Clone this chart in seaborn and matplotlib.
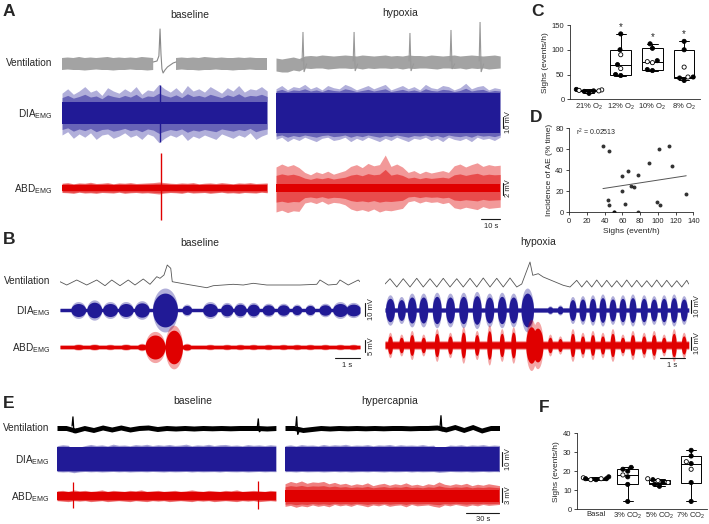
import numpy as np
import pandas as pd
import matplotlib
matplotlib.use("Agg")
import matplotlib.pyplot as plt
import seaborn as sns

NA = np.nan
# ======================= DATA =======================
# ---------- Panel A (ventilation a.u.; EMG in mV; time in s) ----------
a_base_dur = 108.0
a_hyp_dur = 118.0

vent_a_base_hi = [6.0, 6.5, 6.0, 7.0, 6.0, 6.5, 6.0, 6.5, 7.0, 6.0, 6.5, 6.0, 6.5, 6.0, 7.0, 6.5, 6.0,
                  NA, NA, NA,
                  6.0, 6.5, 6.0, 6.5, 6.0, 7.0, 6.5, 6.0, 6.5, 6.0, 6.0, 6.5, 6.0, 6.5, 6.0, 6.0, 6.0]
vent_a_base_lo = [6.0, 5.5, 6.0, 6.0, 6.5, 6.0, 5.5, 6.0, 6.0, 6.5, 6.0, 6.0, 5.5, 6.0, 6.0, 6.5, 6.0,
                  NA, NA, NA,
                  6.0, 5.5, 6.0, 6.0, 6.5, 6.0, 6.0, 5.5, 6.0, 6.0, 6.5, 6.0, 6.0, 5.5, 6.0, 6.0, 6.0]
vent_a_base_sigh_t = [48.0, 50.0, 51.0, 51.6, 52.1, 52.6, 53.2, 54.2, 55.5, 57.0, 58.5, 60.0]
vent_a_base_sigh_v = [2, 3, 8, 35, 10, -5, -9, -6, -3, -1, 1, 2]

vent_a_hyp_hi = [5, 4, 5, 6, 4.5, 7, 7.5, 7, 8, 7.5, 7, 7.5, 8, 7.5, 7, 8, 7.5, 7, 7.5, 8,
                 7, 7.5, 7, 8, 7.5, 7.5, 7, 8, 7.5, 7, 7.5, 8, 7, 7.5, 8, 7.5, 7, 7.5, 8, 7]
vent_a_hyp_lo = [8, 9, 9, 7, 8, 5, 5.5, 5, 5, 6, 5.5, 5, 5, 5.5, 5, 6, 5, 5.5, 5, 5,
                 5.5, 5, 6, 5, 5.5, 5, 5, 5.5, 6, 5, 5, 5.5, 5, 6, 5, 5.5, 5, 6, 5.5, 5]
vent_a_hyp_sigh_t = [14.2, 41.1, 70.5, 92.1, 107.4]
vent_a_hyp_sigh_top = [31, 31, 30, 33, 41]
vent_a_hyp_sigh_dip = [-9, -8, -8, -6, -9]

dia_a_base_core = 10.0
dia_a_base_hi = [18, 22, 17, 20, 24, 19, 21, 16, 23, 20, 18, 22, 19, 24, 17, 21, 20, 26, 22, 19,
                 23, 18, 25, 20, 22, 19, 24, 21, 18, 23, 20, 25, 19, 22, 21, 24, 20]
dia_a_base_lo = [20, 17, 23, 19, 22, 18, 24, 20, 19, 23, 21, 18, 22, 20, 24, 19, 21, 27, 23, 20,
                 22, 19, 25, 21, 23, 20, 22, 24, 19, 21, 23, 20, 22, 18, 24, 21, 19]
dia_a_base_sigh = (51.6, 25.5, 26.5)      # time, up, down (mV)

dia_a_hyp_core = 18.0
dia_a_hyp_hi = [22, 25, 21, 24, 23, 26, 22, 24, 21, 25, 23, 22, 26, 24, 21, 23, 25, 22, 24, 26,
                21, 23, 25, 22, 24, 21, 26, 23, 22, 25, 24, 21, 23, 27, 22, 24, 25, 21, 23, 22]
dia_a_hyp_lo = [24, 22, 26, 23, 25, 22, 24, 26, 23, 22, 25, 24, 22, 26, 23, 25, 22, 24, 26, 23,
                25, 22, 24, 26, 23, 24, 22, 25, 23, 26, 22, 24, 25, 23, 26, 22, 24, 23, 25, 22]

abd_a_base_core = 0.55
abd_a_base_hi = [0.8, 0.9, 0.7, 0.85, 0.8, 0.95, 0.75, 0.8, 0.9, 0.7, 0.85, 0.8, 0.9, 0.75, 0.8, 0.85, 0.9, 1.0, 0.9, 0.8,
                 0.75, 0.85, 0.8, 0.9, 0.7, 0.8, 0.85, 0.75, 0.9, 0.8, 0.7, 0.85, 0.8, 0.9, 0.75, 0.8, 0.85]
abd_a_base_lo = [0.75, 0.8, 0.9, 0.7, 0.85, 0.8, 0.9, 0.75, 0.8, 0.85, 0.7, 0.9, 0.8, 0.75, 0.85, 0.8, 0.9, 1.0, 0.85, 0.75,
                 0.8, 0.9, 0.7, 0.85, 0.8, 0.75, 0.9, 0.8, 0.7, 0.85, 0.8, 0.9, 0.75, 0.8, 0.85, 0.7, 0.8]
abd_a_base_sigh = (52.1, 5.8, 5.3)

abd_a_hyp_core = 0.7
abd_a_hyp_hi = [3.5, 4.0, 3.6, 3.9, 3.4, 2.6, 2.2, 2.7, 2.4, 2.8, 2.3, 2.6, 2.9, 3.6, 3.9, 3.4, 4.1, 3.7, 3.9, 5.5,
                3.6, 4.0, 3.5, 2.6, 2.9, 2.4, 2.8, 2.5, 2.7, 2.9, 2.6, 3.7, 4.0, 3.5, 3.9, 4.2, 3.6, 3.9, 3.7, 3.8]
abd_a_hyp_lo = [4.0, 3.7, 4.1, 3.8, 3.9, 2.5, 2.3, 2.6, 2.2, 2.7, 2.4, 2.5, 2.8, 3.5, 3.8, 3.6, 3.9, 3.5, 4.0, 3.7,
                3.8, 3.6, 3.4, 2.3, 2.1, 2.5, 2.2, 2.4, 2.3, 2.6, 2.4, 3.3, 3.5, 3.2, 3.4, 3.6, 3.1, 3.4, 3.3, 3.2]

# ---------- Panel B (12 s excerpts) ----------
b_base_dur = 12.0
b_hyp_dur = 12.15

vent_b_base_t = [0.0, 0.27, 0.67, 1.07, 1.47, 1.8, 2.07, 2.4, 2.73, 3.0, 3.33, 3.6, 3.87, 4.0, 4.16, 4.29,
                 4.43, 4.49, 5.07, 5.87, 6.13, 6.93, 7.33, 7.73, 8.27, 9.6, 10.27, 10.4, 10.73, 11.07,
                 11.2, 11.53, 11.93, 12.0]
vent_b_base_v = [3.3, 0, 5, 0, 5, -0.7, 5, -0.7, 5, 0, 6, 0.7, 8.3, 6.7, 10, 20,
                 16.7, 3.3, 0.7, -2.7, -0.7, 0.7, 0, 1.7, 0, 0, 0.7, 5, 0, 0.7,
                 5, 0, 5, 3.3]
vent_b_hyp_t = [0.0, 0.2, 0.47, 0.73, 1.0, 1.27, 1.53, 1.8, 2.07, 2.33, 2.6, 2.87, 3.13, 3.4, 3.67,
                3.93, 4.2, 4.47, 4.73, 5.0, 5.27, 5.47, 5.8, 5.91, 6.13, 6.33, 7.13, 7.4, 7.67, 7.87,
                8.07, 8.27, 8.47, 8.67, 8.87, 9.07, 9.27, 9.47, 9.67, 9.87, 10.07, 10.27, 10.47, 10.67,
                10.87, 11.07, 11.27, 11.47, 11.67, 11.87, 12.07, 12.15]
vent_b_hyp_v = [3, 8.3, 0, 8.3, 0, 8.7, 0, 8.3, 0, 8.7, 0, 8.3, 0, 8.7, 0,
                9, 0, 8.7, 0, 9, 0, 3, 25, 11.7, 13.3, 10, 1.7, 0, 6.7, 0,
                6.3, 0, 7, 0, 6.7, 0, 6.3, 0, 7, 0, 6.7, 0, 6.3, 0,
                7, 0, 6.7, 0, 6.3, 0, 6.7, 3]

dia_b_base_line = 1.2
dia_b_base_burst_t = [0.73, 1.37, 2.0, 2.63, 3.27, 4.2, 5.07, 6.0, 6.67, 7.2, 7.73, 8.33, 8.93, 9.47, 10.0, 10.6, 11.2, 11.73]
dia_b_base_burst_a = [5, 6, 5, 5, 5.5, 13, 3.5, 5, 4.5, 4.5, 4.5, 4, 4, 3.5, 3.5, 4, 5, 4.5]
dia_b_base_burst_w = [0.3, 0.3, 0.3, 0.3, 0.3, 0.5, 0.2, 0.3, 0.25, 0.25, 0.25, 0.25, 0.25, 0.2, 0.2, 0.25, 0.3, 0.3]

abd_b_base_line = 0.7
abd_b_base_burst_t = [0.73, 1.37, 2.0, 2.63, 3.27, 3.8, 4.55, 5.07, 6.0, 6.67, 7.2, 7.73, 8.33, 8.93, 9.47, 10.0, 10.6, 11.2, 11.73]
abd_b_base_burst_a = [1.0, 1.0, 0.9, 1.0, 1.2, 5, 7, 1.2, 0.9, 0.9, 0.9, 0.9, 0.9, 0.9, 0.9, 0.9, 0.9, 0.9, 0.9]
abd_b_base_burst_w = [0.25, 0.25, 0.25, 0.25, 0.2, 0.4, 0.35, 0.2, 0.25, 0.25, 0.25, 0.25, 0.25, 0.25, 0.25, 0.25, 0.25, 0.25, 0.25]

dia_b_hyp_line = 1.5
dia_b_hyp_burst_t = [0.2, 0.65, 1.07, 1.53, 2.07, 2.6, 3.13, 3.67, 4.17, 4.67, 5.13, 5.69, 6.6, 7.0,
                     7.5, 7.9, 8.3, 8.7, 9.1, 9.5, 9.9, 10.35, 10.75, 11.15, 11.55, 11.95]
dia_b_hyp_burst_a = [9, 8, 10, 10, 10.5, 10, 10.5, 11, 10, 10.5, 10, 13, 2.5, 3,
                     8, 8.5, 9, 9.5, 8.5, 9, 9.5, 9, 8.5, 9, 9.5, 8.5]
dia_b_hyp_burst_w = [0.18, 0.16, 0.18, 0.18, 0.18, 0.18, 0.18, 0.18, 0.18, 0.18, 0.18, 0.25, 0.12, 0.12,
                     0.14, 0.14, 0.14, 0.14, 0.14, 0.14, 0.14, 0.14, 0.14, 0.14, 0.14, 0.14]

abd_b_hyp_line = 2.5
abd_b_hyp_burst_t = [0.2, 0.65, 1.07, 1.53, 2.07, 2.6, 3.13, 3.67, 4.17, 4.67, 5.13, 5.85, 6.1,
                     6.6, 7.0, 7.5, 7.9, 8.3, 8.7, 9.1, 9.5, 9.9, 10.35, 10.75, 11.15, 11.55, 11.95]
abd_b_hyp_burst_a = [7, 6, 8, 6, 9, 7, 10, 8, 11, 9, 10, 14, 13,
                     6, 5, 9, 7, 8, 7, 9, 6, 8, 7, 8, 6, 9, 7]
abd_b_hyp_burst_w = [0.1, 0.1, 0.1, 0.1, 0.1, 0.1, 0.1, 0.1, 0.1, 0.1, 0.1, 0.22, 0.22,
                     0.1, 0.1, 0.1, 0.1, 0.1, 0.1, 0.1, 0.1, 0.1, 0.1, 0.1, 0.1, 0.1, 0.1]

# ---------- Panel E (hypercapnia, ~3.3 min) ----------
e_base_dur = 199.0
e_hyp_dur = 195.0
vent_e_tidal = 2.5
vent_e_base_c = [0, 0, -2.5, 0, -2, 0.5, -1.5, 0.5, -1.5, 0, 0.5, -1, 0, -0.5, 0, -0.5, 0, -0.3, 0, -0.3, 0, 0, 0, -0.5, 0]
vent_e_hyp_c = [0, 0, -2, -1, 0, -0.5, 0, -0.3, 0, -0.3, 0, -0.3, 0, 0, -0.3, 0, 0, 0.5, -1.5, 1, -2, 1, -2.5, 0, 0]
vent_e_base_sigh_t = [14.5, 183.0]
vent_e_base_sigh_top = [11.5, 9.5]
vent_e_base_sigh_dip = [-5, -4]
vent_e_hyp_sigh_t = [10.6, 141.8]
vent_e_hyp_sigh_top = [11.7, 12.7]
vent_e_hyp_sigh_dip = [-6.7, -3]

dia_e_base_core = 8.3
dia_e_base_hi = [9.5, 10.2, 9.8, 6.0, 8.5, 9.6, 10.4, 9.7, 10.1, 9.4, 10.6, 9.8, 10.0, 9.5, 10.3, 9.9, 10.5, 9.6, 10.2, 9.8,
                 10.4, 9.7, 10.0, 10.6, 9.5, 10.1, 9.8, 10.5, 9.6, 10.2, 10.4, 9.7, 10.0, 9.5, 10.3, 9.8, 10.1, 9.6, 10.2, 9.8]
dia_e_base_lo = [9.0, 9.3, 9.1, 9.8, 9.2, 8.9, 9.2, 9.0, 9.3, 9.1, 8.9, 9.2, 9.0, 9.3, 9.1, 9.0, 9.2, 8.9, 9.1, 9.3,
                 9.0, 9.2, 9.1, 8.9, 9.3, 9.0, 9.2, 9.1, 9.0, 9.3, 8.9, 9.1, 9.2, 9.0, 9.3, 9.1, 8.9, 9.2, 9.0, 9.1]
dia_e_hyp_core = 8.3
dia_e_hyp_hi = [9.6, 10.1, 9.4, 10.3, 9.8, 10.0, 9.5, 10.4, 9.7, 10.2, 9.9, 10.5, 9.6, 10.0, 9.8, 10.3, 9.5, 10.1, 9.9, 10.4,
                9.6, 10.2, 9.8, 10.0, 9.7, 10.3, 9.6, 9.9, 6.5, 8.8, 10.0, 9.7, 10.2, 9.5, 10.1, 9.8, 10.3, 9.6, 10.0, 9.7]
dia_e_hyp_lo = [9.1, 9.0, 9.3, 8.9, 9.2, 9.1, 9.0, 9.3, 9.1, 8.9, 9.2, 9.0, 9.3, 9.1, 9.0, 9.2, 8.9, 9.1, 9.3, 9.0,
                9.2, 9.1, 8.9, 9.3, 9.0, 9.2, 9.1, 9.0, 9.6, 9.3, 8.9, 9.1, 9.2, 9.0, 9.3, 9.1, 8.9, 9.2, 9.0, 9.1]

abd_e_base_core = 0.85
abd_e_base_hi = [1.1, 1.2, 1.0, 1.3, 1.1, 1.2, 1.0, 1.1, 1.3, 1.0, 1.2, 1.1, 1.0, 1.2, 1.1, 1.3, 1.0, 1.1, 1.2, 1.0,
                 1.1, 1.2, 1.0, 1.1, 1.3, 1.1, 1.0, 1.2, 1.1, 1.0, 1.2, 1.1, 1.3, 1.0, 1.1, 1.2, 1.1, 1.0, 1.2, 1.1]
abd_e_base_lo = [1.0, 1.1, 1.2, 1.0, 1.1, 1.0, 1.2, 1.1, 1.0, 1.2, 1.1, 1.0, 1.1, 1.2, 1.0, 1.1, 1.2, 1.0, 1.1, 1.0,
                 1.2, 1.1, 1.0, 1.1, 1.2, 1.0, 1.1, 1.0, 1.2, 1.1, 1.0, 1.1, 1.2, 1.0, 1.1, 1.0, 1.2, 1.1, 1.0, 1.1]
abd_e_base_sigh_t = [14.5, 183.0]
abd_e_base_sigh_up = [3.0, 3.1]
abd_e_base_sigh_dn = [2.6, 2.8]

abd_e_hyp_core = 1.3
abd_e_hyp_hi = [2.6, 3.1, 2.8, 3.2, 2.7, 3.0, 2.9, 3.1, 2.6, 2.9, 2.5, 2.7, 2.3, 2.6, 2.4, 2.8, 2.2, 2.5, 2.7, 2.3,
                2.6, 2.4, 2.8, 2.3, 2.5, 2.2, 2.6, 2.4, 3.0, 2.5, 2.3, 2.6, 2.4, 2.7, 2.2, 2.5, 2.3, 2.6, 2.4, 2.2]
abd_e_hyp_lo = [2.2, 2.0, 2.4, 2.1, 2.3, 1.9, 2.2, 2.0, 2.3, 1.8, 2.1, 1.9, 2.2, 1.8, 2.0, 2.3, 1.9, 2.1, 1.8, 2.2,
                2.0, 1.9, 2.3, 1.8, 2.1, 2.0, 1.9, 2.2, 2.4, 1.9, 2.1, 1.8, 2.0, 2.2, 1.9, 2.1, 1.8, 2.0, 1.9, 1.8]

# ---------- Panel C: sighs (events/h) under hypoxia ----------
c_groups = ['21% O$_2$', '12% O$_2$', '10% O$_2$', '8% O$_2$']
c_21 = [20, 19, 18, 17, 17, 16, 12]
c_12 = [132, 100, 90, 70, 62, 50, 48]
c_10 = [112, 103, 78, 76, 74, 60, 58]
c_8 = [117, 100, 65, 45, 45, 43, 38]
c_21_open = [False, True, True, False, True, False, False]
c_12_open = [False, False, True, False, True, False, False]
c_10_open = [False, False, False, True, True, False, False]
c_8_open = [False, False, True, True, False, False, False]
c_signif = [False, True, True, True]

# ---------- Panel D: sighs vs incidence of AE ----------
d_sighs = [38, 45, 44, 45, 50, 51, 60, 60, 63, 66, 70, 73, 77, 78, 90, 99, 101, 102, 112, 116, 132]
d_ae = [63, 58, 12, 7, 0, 0, 35, 20, 8, 39, 25, 24, 0, 36, 47, 10, 60, 7, 63, 44, 17]
d_r2_text = 'r$^2$ = 0.02513'

# ---------- Panel F: sighs (events/h) under hypercapnia ----------
f_groups = ['Basal', '3% CO$_2$', '5% CO$_2$', '7% CO$_2$']
f_basal = [17, 16.5, 16, 16, 16, 15.5, 15.5]
f_3 = [22, 21, 20, 18, 17, 13, 4]
f_5 = [16, 15.5, 15, 14, 14, 13, 12]
f_7 = [31, 28, 25, 24, 21, 14, 4]
f_basal_open = [False, True, False, True, False, True, False]
f_3_open = [False, False, False, True, False, False, False]
f_5_open = [True, False, True, False, True, False, False]
f_7_open = [False, False, True, False, True, False, False]

# ======================= STYLE / LAYOUT =======================
sns.set_theme(style="ticks")
plt.rcParams['font.family'] = ['Liberation Sans', 'DejaVu Sans']
plt.rcParams['mathtext.fontset'] = 'custom'
plt.rcParams['mathtext.rm'] = 'Liberation Sans'
plt.rcParams['mathtext.it'] = 'Liberation Sans:italic'
plt.rcParams['mathtext.bf'] = 'Liberation Sans:bold'
plt.rcParams['axes.linewidth'] = 0.6

BLUE = '#211a96'
RED = '#e00000'
GRAY = '#a3a3a3'

W, H = 709, 524
fig = plt.figure(figsize=(W / 100, H / 100), dpi=100)
ov = fig.add_axes([0, 0, 1, 1])
ov.set_xlim(0, W)
ov.set_ylim(H, 0)
ov.axis('off')


def px_axes(x0, x1, y0, y1):
    return fig.add_axes([x0 / W, 1 - y1 / H, (x1 - x0) / W, (y1 - y0) / H])


def trace_ax(x0, yc, dur, px_per_s, px_per_unit, half=48):
    ax = px_axes(x0, x0 + dur * px_per_s, yc - half, yc + half)
    ax.set_xlim(0, dur)
    ax.set_ylim(-half / px_per_unit, half / px_per_unit)
    ax.axis('off')
    return ax


def dense_trace(ax, dur, hi, lo, core, color, light_alpha=0.35):
    hi = np.asarray(hi, float)
    lo = np.asarray(lo, float)
    t = np.linspace(0, dur, len(hi))
    ax.fill_between(t, -lo, hi, color=color, alpha=light_alpha, lw=0)
    ax.fill_between(t, -(lo + core) / 2, (hi + core) / 2, color=color, alpha=0.5, lw=0)
    ax.fill_between(t, -core, core, color=color, lw=0)


def burst_trace(ax, dur, times, amps, widths, base, color, halo=1.3):
    tt = np.linspace(0, dur, 3000)
    env = np.full_like(tt, base)
    for t0, a, w in zip(times, amps, widths):
        env = np.maximum(env, a * np.sqrt(np.clip(1 - ((tt - t0) / w) ** 2, 0, None)))
    ax.fill_between(tt, -env * halo, env * halo, color=color, lw=0, alpha=0.35)
    ax.fill_between(tt, -env, env, color=color, lw=0)


def vent_band(ax, dur, hi, lo, color):
    hi = np.asarray(hi, float)
    lo = np.asarray(lo, float)
    t = np.linspace(0, dur, len(hi))
    ax.fill_between(t, -lo, hi, color=color, lw=0)


def vent_spikes(ax, dur, times, tops, dips, color, lw=0.8):
    dt = dur / 250.0
    for t0, top, dip in zip(times, tops, dips):
        ax.plot([t0 - dt, t0, t0 + 1.2 * dt, t0 + 4 * dt], [2, top, dip, -1], color=color, lw=lw,
                solid_joinstyle='miter')


def vbar(ax, x, y0, y1, label, tx):
    ax.plot([x, x], [y0, y1], color='k', lw=0.8, clip_on=False)
    ax.text(tx, (y0 + y1) / 2, label, rotation=90, ha='center', va='center', fontsize=5.5, clip_on=False)


def hbar(ax, x0, x1, y, label, ty):
    ax.plot([x0, x1], [y, y], color='k', lw=0.8, clip_on=False)
    ax.text((x0 + x1) / 2, ty, label, ha='center', va='center', fontsize=5.5, clip_on=False)


# ---------------- Panel A traces ----------------
PPS_A = 1.9
ax = trace_ax(62, 64, a_base_dur, PPS_A, 1.0)
vent_band(ax, a_base_dur, vent_a_base_hi, vent_a_base_lo, GRAY)
ax.plot(vent_a_base_sigh_t, vent_a_base_sigh_v, color='#888888', lw=0.8)
ax = trace_ax(276, 63, a_hyp_dur, PPS_A, 1.0)
vent_band(ax, a_hyp_dur, vent_a_hyp_hi, vent_a_hyp_lo, GRAY)
vent_spikes(ax, a_hyp_dur, vent_a_hyp_sigh_t, vent_a_hyp_sigh_top, vent_a_hyp_sigh_dip, '#999999')

ax = trace_ax(62, 113, a_base_dur, PPS_A, 1.1)
dense_trace(ax, a_base_dur, dia_a_base_hi, dia_a_base_lo, dia_a_base_core, BLUE)
ax.vlines(dia_a_base_sigh[0], -dia_a_base_sigh[2], dia_a_base_sigh[1], color=BLUE, lw=1.0)
ax = trace_ax(276, 113, a_hyp_dur, PPS_A, 1.1)
dense_trace(ax, a_hyp_dur, dia_a_hyp_hi, dia_a_hyp_lo, dia_a_hyp_core, BLUE)
vbar(ax, a_hyp_dur + 1.6, -13.6, -3.6, '10 mV', a_hyp_dur + 4.6)

ax = trace_ax(62, 188, a_base_dur, PPS_A, 6.0)
dense_trace(ax, a_base_dur, abd_a_base_hi, abd_a_base_lo, abd_a_base_core, RED, 0.5)
ax.vlines(abd_a_base_sigh[0], -abd_a_base_sigh[2], abd_a_base_sigh[1], color=RED, lw=1.0)
ax = trace_ax(276, 188, a_hyp_dur, PPS_A, 6.0)
dense_trace(ax, a_hyp_dur, abd_a_hyp_hi, abd_a_hyp_lo, abd_a_hyp_core, RED, 0.4)
vbar(ax, a_hyp_dur + 1.6, -1.1, 0.9, '2 mV', a_hyp_dur + 4.6)
hbar(ax, a_hyp_dur - 10, a_hyp_dur, -5.2, '10 s', -6.5)

# ---------------- Panel B traces ----------------
PPS_B = 25.0
ax = trace_ax(60, 285, b_base_dur, PPS_B, 1.0)
ax.plot(vent_b_base_t, vent_b_base_v, color='#555555', lw=0.6)
ax = trace_ax(385, 287, b_hyp_dur, PPS_B, 1.0)
ax.plot(vent_b_hyp_t, vent_b_hyp_v, color='#555555', lw=0.6)

ax = trace_ax(60, 310, b_base_dur, PPS_B, 1.3)
burst_trace(ax, b_base_dur, dia_b_base_burst_t, dia_b_base_burst_a, dia_b_base_burst_w, dia_b_base_line, BLUE)
vbar(ax, b_base_dur + 0.2, -4.6, 5.4, '10 mV', b_base_dur + 0.45)
ax = trace_ax(385, 310, b_hyp_dur, PPS_B, 1.3)
burst_trace(ax, b_hyp_dur, dia_b_hyp_burst_t, dia_b_hyp_burst_a, dia_b_hyp_burst_w, dia_b_hyp_line, BLUE)
vbar(ax, b_hyp_dur + 0.08, -2.3, 7.7, '10 mV', b_hyp_dur + 0.33)

ax = trace_ax(60, 347, b_base_dur, PPS_B, 2.4)
burst_trace(ax, b_base_dur, abd_b_base_burst_t, abd_b_base_burst_a, abd_b_base_burst_w, abd_b_base_line, RED)
vbar(ax, b_base_dur + 0.2, -2.1, 2.9, '5 mV', b_base_dur + 0.45)
hbar(ax, b_base_dur - 1, b_base_dur, -4.6, '1 s', -7.9)
ax = trace_ax(385, 345, b_hyp_dur, PPS_B, 1.3)
burst_trace(ax, b_hyp_dur, abd_b_hyp_burst_t, abd_b_hyp_burst_a, abd_b_hyp_burst_w, abd_b_hyp_line, RED, 1.4)
vbar(ax, b_hyp_dur + 0.08, -3.8, 6.2, '10 mV', b_hyp_dur + 0.33)
hbar(ax, b_hyp_dur - 1.15, b_hyp_dur - 0.15, -10, '1 s', -16)

# ---------------- Panel E traces ----------------
PPS_E = 1.1
for x0, dur, cen, st, stop, sdip in [
        (57, e_base_dur, vent_e_base_c, vent_e_base_sigh_t, vent_e_base_sigh_top, vent_e_base_sigh_dip),
        (285, e_hyp_dur, vent_e_hyp_c, vent_e_hyp_sigh_t, vent_e_hyp_sigh_top, vent_e_hyp_sigh_dip)]:
    ax = trace_ax(x0, 428, dur, PPS_E, 1.0)
    c = np.asarray(cen, float)
    t = np.linspace(0, dur, len(c))
    ax.fill_between(t, c - vent_e_tidal, c + vent_e_tidal, color='black', lw=0)
    vent_spikes(ax, dur, st, stop, sdip, 'black', lw=0.9)

ax = trace_ax(57, 459, e_base_dur, PPS_E, 1.4)
dense_trace(ax, e_base_dur, dia_e_base_hi, dia_e_base_lo, dia_e_base_core, BLUE, 0.4)
ax = trace_ax(285, 459, e_hyp_dur, PPS_E, 1.4)
dense_trace(ax, e_hyp_dur, dia_e_hyp_hi, dia_e_hyp_lo, dia_e_hyp_core, BLUE, 0.4)
vbar(ax, e_hyp_dur + 2.7, -5, 5, '10 mV', e_hyp_dur + 8.0)

ax = trace_ax(57, 496, e_base_dur, PPS_E, 4.7)
dense_trace(ax, e_base_dur, abd_e_base_hi, abd_e_base_lo, abd_e_base_core, RED, 0.5)
ax.vlines(abd_e_base_sigh_t, -np.asarray(abd_e_base_sigh_dn), abd_e_base_sigh_up, color=RED, lw=0.9)
ax = trace_ax(285, 496, e_hyp_dur, PPS_E, 4.7)
dense_trace(ax, e_hyp_dur, abd_e_hyp_hi, abd_e_hyp_lo, abd_e_hyp_core, RED, 0.5)
vbar(ax, e_hyp_dur + 2.7, -1.3, 1.7, '3 mV', e_hyp_dur + 8.0)
hbar(ax, e_hyp_dur - 30, e_hyp_dur, -3.6, '30 s', -5.1)

# ---------------- Text labels ----------------
for s, x, y in [('A', 3, 12), ('B', 3, 239), ('E', 3, 404), ('C', 531, 12), ('D', 530, 117), ('F', 539, 408)]:
    ov.text(x, y, s, fontsize=12.5, fontweight='bold', ha='left', va='center')
for s, x, y in [('baseline', 190, 15), ('hypoxia', 400, 13), ('baseline', 200, 243), ('hypoxia', 538, 242),
                ('baseline', 193, 401), ('hypercapnia', 390, 401)]:
    ov.text(x, y, s, fontsize=7.5, ha='center', va='center')
DIA_LBL = r'DIA$_{\mathregular{EMG}}$'
ABD_LBL = r'ABD$_{\mathregular{EMG}}$'
for xr, yv, yd, ya in [(52, 63, 114, 189), (50, 281, 311, 348), (49, 428, 460, 497)]:
    ov.text(xr, yv, 'Ventilation', fontsize=7.2, ha='right', va='center')
    ov.text(xr, yd, DIA_LBL, fontsize=7.2, ha='right', va='center')
    ov.text(xr, ya, ABD_LBL, fontsize=7.2, ha='right', va='center')


# ---------------- Box plots ----------------
def box_panel(ax, groups, values, opens, ylim, yticks, ylabel, signif=None):
    summ = []
    pts = []
    for g, v, o in zip(groups, values, opens):
        for q in np.percentile(v, [0, 25, 50, 75, 100], method='weibull'):
            summ.append({'group': g, 'value': q})
        for vi, oi in zip(v, o):
            pts.append({'group': g, 'value': vi, 'kind': 'open' if oi else 'filled'})
    summ = pd.DataFrame(summ)
    pts = pd.DataFrame(pts)
    sns.boxplot(data=summ, x='group', y='value', order=groups, whis=(0, 100), color='white',
                linecolor='black', linewidth=0.7, width=0.65, showfliers=False, ax=ax)
    sns.swarmplot(data=pts, x='group', y='value', order=groups, hue='kind', hue_order=['filled', 'open'],
                  palette={'filled': 'black', 'open': 'white'}, size=3.0, edgecolor='black',
                  linewidth=0.6, legend=False, ax=ax)
    if signif is not None:
        for i, (v, s) in enumerate(zip(values, signif)):
            if s:
                ax.text(i, max(v) + 14, '*', ha='center', va='center', fontsize=7)
    ax.set_ylim(*ylim)
    ax.set_yticks(yticks)
    ax.set_xlim(-0.6, 3.5)
    ax.set_xlabel('')
    ax.set_ylabel(ylabel, fontsize=6, labelpad=2)
    ax.tick_params(labelsize=5.5, length=2.5, width=0.6, pad=1.5)
    ax.tick_params(axis='x', length=0, pad=1.5)
    sns.despine(ax=ax)


axC = px_axes(570, 700, 25, 99.3)
box_panel(axC, c_groups, [c_21, c_12, c_10, c_8], [c_21_open, c_12_open, c_10_open, c_8_open],
          (0, 150), [0, 50, 100, 150], 'Sighs (events/h)', c_signif)

axF = px_axes(577, 707, 433.3, 509)
box_panel(axF, f_groups, [f_basal, f_3, f_5, f_7], [f_basal_open, f_3_open, f_5_open, f_7_open],
          (0, 40), [0, 10, 20, 30, 40], 'Sighs (events/h)')

# ---------------- Panel D scatter ----------------
axD = px_axes(569.3, 693.3, 128.3, 212.3)
sns.regplot(x=np.array(d_sighs), y=np.array(d_ae), ci=None, ax=axD,
            scatter_kws={'s': 8, 'color': 'black', 'linewidths': 0},
            line_kws={'color': '#555555', 'lw': 0.7})
axD.set_xlim(0, 140)
axD.set_ylim(0, 80)
axD.set_xticks(range(0, 141, 20))
axD.set_yticks(range(0, 81, 20))
axD.set_xlabel('Sighs (event/h)', fontsize=6, labelpad=2)
axD.set_ylabel('Incidence of AE (% time)', fontsize=6, labelpad=2)
axD.tick_params(labelsize=5.5, length=2.5, width=0.6, pad=1.5)
axD.text(8, 76, d_r2_text, fontsize=5, ha='left', va='center')
sns.despine(ax=axD)

fig.savefig('out.png', dpi=100)
